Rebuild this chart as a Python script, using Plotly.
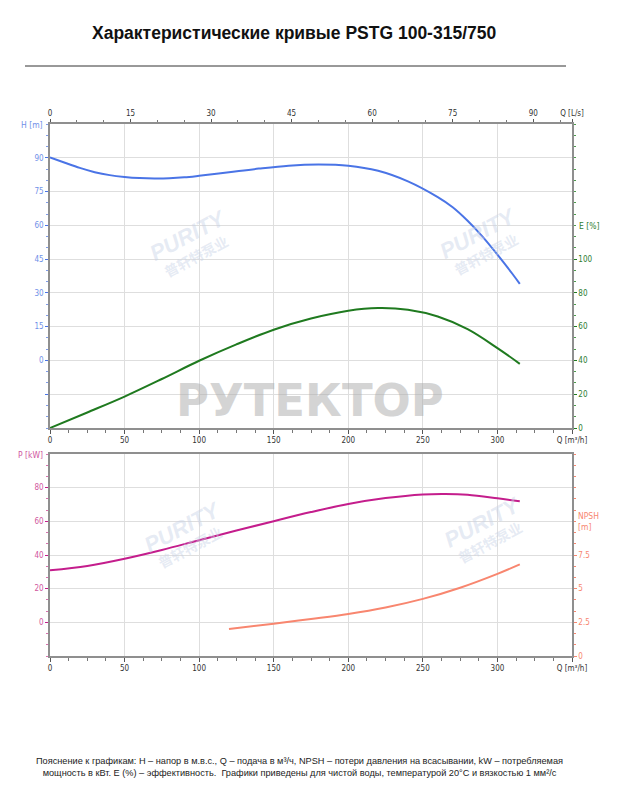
import plotly.graph_objects as go

# ---------------- data ----------------
h_q = [0, 10, 20, 30, 40, 50, 60, 70, 80, 90, 100, 120, 140, 160, 180, 200, 220, 240, 260, 270, 280, 290, 300, 310, 315]
h_val = [90.2, 87.8, 85.5, 83.6, 82.3, 81.5, 81.0, 80.8, 80.9, 81.3, 82.0, 83.6, 85.2, 86.5, 87.0, 86.5, 84.2, 79.5, 72.5, 68.0, 62.0, 55.0, 47.0, 38.5, 34.0]

e_q = [0, 25, 50, 75, 100, 125, 150, 175, 200, 220, 240, 260, 280, 300, 315]
e_val = [0, 9.2, 18.6, 29.0, 39.8, 49.5, 58.2, 64.8, 69.4, 71.0, 70.0, 66.0, 58.5, 47.3, 38.0]

p_q = [0, 25, 50, 75, 100, 125, 150, 175, 200, 225, 250, 265, 280, 300, 315]
p_val = [30.9, 33.5, 37.8, 43.0, 48.8, 54.5, 60.1, 65.5, 70.3, 73.8, 76.0, 76.3, 75.8, 73.7, 71.9]

n_q = [120, 150, 175, 200, 225, 250, 275, 300, 315]
n_val = [2.0, 2.4, 2.75, 3.12, 3.6, 4.24, 5.07, 6.1, 6.8]

q_ticks = [0, 50, 100, 150, 200, 250, 300]
q_max = 350
ls_ticks = [0, 15, 30, 45, 60, 75, 90]
h_ticks = [-15, 0, 15, 30, 45, 60, 75, 90]
e_ticks = [0, 20, 40, 60, 80, 100]
p_ticks = [0, 20, 40, 60, 80]
n_ticks = [0, 2.5, 5, 7.5]

title_text = "Характеристические кривые PSTG 100-315/750"
note_text = ("Пояснение к графикам: H – напор в м.в.с., Q – подача в м³/ч, NPSH – потери давления на всасывании, kW – потребляемая<br>"
             "мощность в кВт. E (%) – эффективность.  Графики приведены для чистой воды, температурой 20°C и вязкостью 1 мм²/с")

# ---------------- colours ----------------
C_H = "#4a74e6"
C_E = "#1f7a1f"
C_P = "#c41d8c"
C_N = "#f8866f"
AX = "#8f8f8f"
GRID = "#dedede"
TF = "DejaVu Sans Condensed, Liberation Sans Narrow, Arial, sans-serif"

W, H = 620, 800
OFF = 8  # page body margin
def px(x):
    return (x - OFF) / W
def py(y):
    return 1 - (y - OFF) / H

XD = [px(50), px(572)]
TOP = [py(428), py(124)]
BOT = [py(656), py(454)]

fig = go.Figure()
fig.add_trace(go.Scatter(x=h_q, y=h_val, mode="lines", line=dict(color=C_H, width=2, shape="spline"), xaxis="x", yaxis="y", hoverinfo="skip"))
# same H curve expressed in L/s on the secondary (top) axis, invisible: makes the top axis render
fig.add_trace(go.Scatter(x=[q / 3.6 for q in h_q], y=h_val, mode="lines", line=dict(color=C_H, width=0), opacity=0,
                         xaxis="x2", yaxis="y", hoverinfo="skip"))
fig.add_trace(go.Scatter(x=e_q, y=e_val, mode="lines", line=dict(color=C_E, width=2, shape="spline"), xaxis="x", yaxis="y2", hoverinfo="skip"))
fig.add_trace(go.Scatter(x=p_q, y=p_val, mode="lines", line=dict(color=C_P, width=2, shape="spline"), xaxis="x3", yaxis="y3", hoverinfo="skip"))
fig.add_trace(go.Scatter(x=n_q, y=n_val, mode="lines", line=dict(color=C_N, width=2, shape="spline"), xaxis="x3", yaxis="y4", hoverinfo="skip"))

tickfont = lambda c: dict(family=TF, size=8, color=c)

q_tickvals = q_ticks + [q_max]
q_ticktext = [str(v) for v in q_ticks] + ["Q [m³/h]"]

fig.update_layout(
    width=W, height=H, autosize=False,
    margin=dict(l=0, r=0, t=0, b=0, autoexpand=False),
    paper_bgcolor="white", plot_bgcolor="white",
    showlegend=False,
    xaxis=dict(domain=XD, anchor="y", range=[0, q_max], tickvals=q_tickvals, ticktext=q_ticktext, automargin=False,
               tickfont=tickfont("#333333"), showline=True, linecolor=AX, linewidth=1.5,
               ticks="outside", ticklen=4, tickcolor="#555555", showgrid=True, gridcolor=GRID, gridwidth=1,
               zeroline=False, minor=dict(dtick=12.5, tick0=0, ticks="outside", ticklen=3, tickcolor="#777777", showgrid=False)),
    xaxis2=dict(domain=XD, anchor="y", overlaying="x", side="top", range=[0, q_max / 3.6], automargin=False,
                tickvals=ls_ticks + [q_max / 3.6], ticktext=[str(v) for v in ls_ticks] + ["Q [L/s]"],
                tickfont=tickfont("#333333"), showline=True, linecolor=AX, linewidth=1.5,
                ticks="outside", ticklen=3, tickcolor="#555555", showgrid=False, zeroline=False,
                minor=dict(dtick=5, tick0=0, ticks="outside", ticklen=2, tickcolor="#777777", showgrid=False)),
    yaxis=dict(domain=TOP, anchor="x", range=[-30, 105], tickvals=h_ticks, ticktext=[""] + [str(v) for v in h_ticks[1:]],
               automargin=False,
               tickfont=tickfont("#7090e8"), showline=True, linecolor=AX, linewidth=1.5,
               ticks="outside", ticklen=3, tickcolor=C_H, showgrid=True, gridcolor=GRID, gridwidth=1, zeroline=False,
               minor=dict(dtick=5, tick0=0, ticks="outside", ticklen=2, tickcolor="#7f9be8", showgrid=False)),
    yaxis2=dict(anchor="x", overlaying="y", side="right", range=[0, 180], tickvals=e_ticks, automargin=False,
                tickfont=tickfont("#2e7d32"), showline=True, linecolor=AX, linewidth=1.5,
                ticks="outside", ticklen=3, tickcolor=C_E, showgrid=False, zeroline=False,
                minor=dict(dtick=20 / 3, tick0=0, ticks="outside", ticklen=2, tickcolor="#4c9a4c", showgrid=False)),
    xaxis3=dict(domain=XD, anchor="y3", range=[0, q_max], tickvals=q_tickvals, ticktext=q_ticktext, automargin=False,
                tickfont=tickfont("#333333"), showline=True, linecolor=AX, linewidth=1.5, mirror=True,
                ticks="outside", ticklen=4, tickcolor="#555555", showgrid=True, gridcolor=GRID, gridwidth=1,
                zeroline=False, minor=dict(dtick=12.5, tick0=0, ticks="outside", ticklen=3, tickcolor="#777777", showgrid=False)),
    yaxis3=dict(domain=BOT, anchor="x3", range=[-20, 100], tickvals=p_ticks, automargin=False,
                tickfont=tickfont("#d0569e"), showline=True, linecolor=AX, linewidth=1.5,
                ticks="outside", ticklen=3, tickcolor=C_P, showgrid=True, gridcolor=GRID, gridwidth=1, zeroline=False,
                minor=dict(dtick=20 / 3, tick0=0, ticks="outside", ticklen=2, tickcolor="#d870ae", showgrid=False)),
    yaxis4=dict(anchor="x3", overlaying="y3", side="right", range=[0, 15], tickvals=n_ticks, automargin=False,
                tickfont=tickfont(C_N), showline=True, linecolor=AX, linewidth=1.5,
                ticks="outside", ticklen=3, tickcolor=C_N, showgrid=False, zeroline=False,
                minor=dict(dtick=2.5 / 3, tick0=0, ticks="outside", ticklen=2, tickcolor=C_N, showgrid=False)),
)

def A(x, y, text, font, xanchor="center", **kw):
    return dict(x=px(x), y=py(y), xref="paper", yref="paper", text=text, showarrow=False,
                xanchor=xanchor, yanchor="middle", font=font, **kw)

ann = []
# title and underline
ann.append(A(294, 33, "<b>" + title_text + "</b>", dict(family="Liberation Sans, Arial, sans-serif", size=17.5, color="#111111")))
fig.add_shape(type="line", xref="paper", yref="paper", x0=px(25), x1=px(566), y0=py(66), y1=py(66),
              line=dict(color="#333333", width=1))
# axis titles
ann.append(A(45, 125, "H [m]", dict(family=TF, size=8.5, color="#7090e8"), xanchor="right"))
ann.append(A(577, 226, "E [%]", dict(family=TF, size=8.5, color="#2e7d32"), xanchor="left"))
ann.append(A(45, 455, "P [kW]", dict(family=TF, size=8.5, color="#d0569e"), xanchor="right"))
ann.append(A(576, 521, "NPSH<br>[m]", dict(family=TF, size=8.5, color=C_N), xanchor="left", align="left"))
# watermarks
WM = "rgba(200,210,230,0.45)"
for (wx, wy) in [(188, 236), (478, 234), (182, 527), (482, 522)]:
    ann.append(A(wx, wy, "<b><i>PURITY</i></b>", dict(family="Liberation Sans, Arial", size=22, color=WM), textangle=-28))
    ann.append(A(wx + 8, wy + 20, "<b>普轩特泵业</b>", dict(family="Noto Sans CJK SC", size=14, color=WM), textangle=-28))
ann.append(A(310, 400, "<b>РУТЕКТОР</b>", dict(family="DejaVu Sans, Roboto, Arial", size=45, color="rgba(170,170,170,0.5)")))
# footnote
ann.append(A(299, 767, note_text, dict(family="Liberation Sans, Arial, sans-serif", size=9.2, color="#222222"), align="center"))
fig.update_layout(annotations=ann)

fig.write_html("out.html")
